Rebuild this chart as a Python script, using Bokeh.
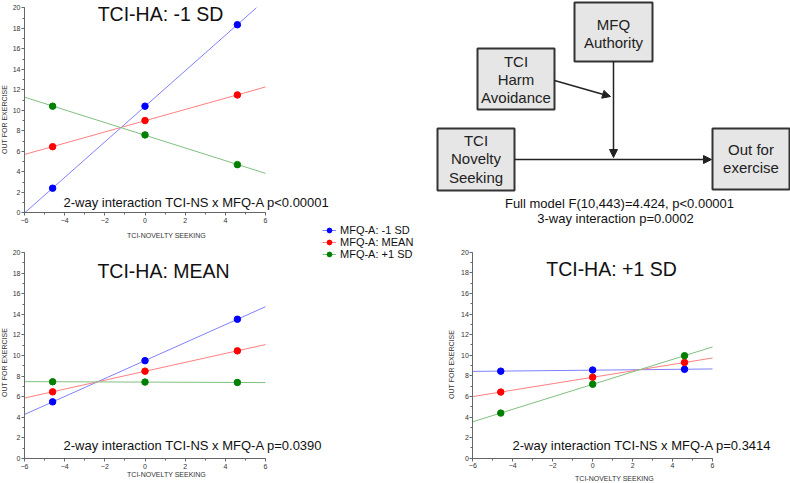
import numpy as np
from bokeh.plotting import figure
from bokeh.layouts import row, column
from bokeh.models import (Range1d, Label, Legend, LegendItem, SingleIntervalTicker,
                          Arrow, NormalHead)
from bokeh.embed import file_html
from bokeh.resources import INLINE

# ---------------- data ----------------
ns_levels = [-4.6, 0.0, 4.6]          # TCI-Novelty Seeking: -1 SD, mean, +1 SD
x_limits = [-6, 6]
y_limits = [0, 20]

# TCI-HA: -1 SD
ha_low_mfq_low = [2.4, 10.4, 18.35]
ha_low_mfq_mean = [6.45, 9.0, 11.5]
ha_low_mfq_high = [10.4, 7.6, 4.7]
# TCI-HA: MEAN
ha_mean_mfq_low = [5.5, 9.5, 13.52]
ha_mean_mfq_mean = [6.47, 8.48, 10.45]
ha_mean_mfq_high = [7.45, 7.42, 7.38]
# TCI-HA: +1 SD
ha_high_mfq_low = [8.45, 8.56, 8.63]
ha_high_mfq_mean = [6.42, 7.86, 9.29]
ha_high_mfq_high = [4.38, 7.18, 9.95]

series_labels = ["MFQ-A: -1 SD", "MFQ-A: MEAN", "MFQ-A: +1 SD"]
panel_titles = ["TCI-HA: -1 SD", "TCI-HA: MEAN", "TCI-HA: +1 SD"]
panel_notes = ["2-way interaction TCI-NS x MFQ-A p<0.00001",
               "2-way interaction TCI-NS x MFQ-A p=0.0390",
               "2-way interaction TCI-NS x MFQ-A p=0.3414"]
x_label = "TCI-NOVELTY SEEKING"
y_label = "OUT FOR EXERCISE"
model_text = ["Full model F(10,443)=4.424, p<0.00001", "3-way interaction p=0.0002"]

# ---------------- styles ----------------
FONT = "Liberation Sans"
line_cols = ["#8080ff", "#ff8080", "#80c080"]
dot_cols = ["#0000ff", "#ff0000", "#008000"]


class Panel:
    """Figure whose frame fills the whole canvas; axes drawn at fixed data locations."""

    def __init__(self, width, height, left, top, xa, ya, margin=None):
        # xa: (px of x=-6, px of x=6) page coords ; ya: (px of y=0, px of y=20)
        self.left, self.top = left, top
        self.kx = (x_limits[1] - x_limits[0]) / (xa[1] - xa[0])
        self.x0 = x_limits[0] - xa[0] * self.kx
        self.ky = (y_limits[1] - y_limits[0]) / (ya[0] - ya[1])
        self.y0 = ya[0] * self.ky
        xr = Range1d(self.dx(left), self.dx(left + width))
        yr = Range1d(self.dy(top + height), self.dy(top))
        p = figure(width=width, height=height, output_backend="svg",
                   toolbar_location=None, x_range=xr, y_range=yr, min_border=0,
                   min_border_left=0, min_border_right=0, min_border_top=0,
                   min_border_bottom=0)
        if margin is not None:
            p.margin = margin
        p.background_fill_alpha = 0
        p.border_fill_alpha = 0
        p.outline_line_color = None
        p.grid.visible = False
        p.xaxis.fixed_location = y_limits[0]
        p.yaxis.fixed_location = x_limits[0]
        p.xaxis.bounds = tuple(x_limits)
        p.yaxis.bounds = tuple(y_limits)
        for ax in (p.xaxis[0], p.yaxis[0]):
            ax.ticker = SingleIntervalTicker(interval=2, num_minor_ticks=2)
            ax.axis_line_color = "#666666"
            ax.major_tick_line_color = "#666666"
            ax.minor_tick_line_color = "#666666"
            ax.major_tick_out = 3
            ax.major_tick_in = 0
            ax.minor_tick_out = 2
            ax.minor_tick_in = 0
            ax.major_label_text_font = FONT
            ax.major_label_text_font_size = "7px"
            ax.major_label_text_color = "#333333"
        p.xaxis.major_label_standoff = 2
        p.yaxis.major_label_standoff = 1
        self.p = p

    def dx(self, px):
        return self.x0 + px * self.kx

    def dy(self, py):
        return self.y0 - py * self.ky

    def plot(self, series):
        xs = np.array(ns_levels)
        rends = []
        for i, ys in enumerate(series):
            k, b = np.polyfit(xs, np.array(ys), 1)
            lo, hi = float(x_limits[0]), float(x_limits[1])
            if k != 0:
                xa_, xb_ = (y_limits[0] - b) / k, (y_limits[1] - b) / k
                lo = max(lo, min(xa_, xb_))
                hi = min(hi, max(xa_, xb_))
            lx = np.array([lo, hi])
            ln = self.p.line(lx, k * lx + b, line_color=line_cols[i], line_width=1)
            ci = self.p.scatter(xs, ys, size=6.5, fill_color=dot_cols[i],
                                line_color=dot_cols[i])
            rends.append((ln, ci))
        return rends

    def text(self, px, py, txt, size, align="center", color="#111111", angle=0.0):
        self.p.add_layout(Label(x=self.dx(px), y=self.dy(py), text=txt, text_font=FONT,
                                text_font_size=size, text_align=align, angle=angle,
                                text_baseline="middle", text_color=color))


# top-left: TCI-HA -1 SD   (page coordinates)
P1 = Panel(432, 242, 0, 0, (24, 265), (212.3, 7.3))
P1.plot([ha_low_mfq_low, ha_low_mfq_mean, ha_low_mfq_high])
P1.text(160, 13.5, panel_titles[0], "19.5px")
P1.text(63, 202, panel_notes[0], "13px", align="left")
P1.text(166, 235, x_label, "7px", color="#333333")
P1.text(3.5, 119, y_label, "7px", color="#333333", angle=np.pi / 2)

# bottom-left: TCI-HA MEAN (overlaps p1 bottom by 20px, carries the legend)
P2 = Panel(432, 261, 0, 222, (24, 265), (458, 252), margin=(-20, 0, 0, 0))
r2 = P2.plot([ha_mean_mfq_low, ha_mean_mfq_mean, ha_mean_mfq_high])
P2.text(163, 270, panel_titles[1], "19.5px")
P2.text(63, 445, panel_notes[1], "13px", align="left")
P2.text(166, 474, x_label, "7px", color="#333333")
P2.text(3.5, 362, y_label, "7px", color="#333333", angle=np.pi / 2)
legend = Legend(items=[LegendItem(label=series_labels[i], renderers=list(r2[i]))
                       for i in range(3)],
                location=(322, 223), orientation="vertical",
                label_text_font=FONT, label_text_font_size="11px",
                label_text_color="#111111", glyph_width=14, glyph_height=12,
                label_height=12, label_standoff=4, spacing=0, padding=0, margin=0,
                background_fill_alpha=0, border_line_color=None)
P2.p.add_layout(legend)

# bottom-right: TCI-HA +1 SD
P3 = Panel(358, 247, 432, 236, (472.3, 712), (457.7, 251.7))
P3.plot([ha_high_mfq_low, ha_high_mfq_mean, ha_high_mfq_high])
P3.text(611, 268, panel_titles[2], "19.5px")
P3.text(512, 445, panel_notes[2], "13px", align="left")
P3.text(614, 478, x_label, "7px", color="#333333")
P3.text(451, 364, y_label, "7px", color="#333333", angle=np.pi / 2)

# ---------------- diagram (page pixel coordinates) ----------------
pd = figure(width=358, height=236, output_backend="svg", toolbar_location=None,
            x_range=Range1d(432, 790), y_range=Range1d(236, 0),
            x_axis_type=None, y_axis_type=None, min_border=0,
            min_border_left=0, min_border_right=0, min_border_top=0,
            min_border_bottom=0)
pd.outline_line_color = None
pd.grid.visible = False
pd.background_fill_alpha = 0
pd.border_fill_alpha = 0

box_left = [574, 477, 437, 712]
box_right = [652, 554, 514, 789]
box_top = [2, 48, 128, 128]
box_bottom = [61, 109, 190, 189]
box_lines = [["MFQ", "Authority"], ["TCI", "Harm", "Avoidance"],
             ["TCI", "Novelty", "Seeking"], ["Out for", "exercise"]]
box_line_y = [[24, 42], [61, 79, 97], [140, 158, 177], [149, 167]]

pd.quad(left=box_left, right=box_right, top=box_top, bottom=box_bottom,
        fill_color="#e6e6e6", line_color="#333333", line_width=2)
tx, ty, tt = [], [], []
for i in range(4):
    for s, yy in zip(box_lines[i], box_line_y[i]):
        tx.append((box_left[i] + box_right[i]) / 2)
        ty.append(yy)
        tt.append(s)
pd.text(x=tx, y=ty, text=tt, text_font={"value": FONT}, text_font_size="15px",
        text_align="center", text_baseline="middle", text_color="#222222")

arrows = [(514, 159, 711, 159), (613, 61, 613, 157), (554, 80, 610, 96)]
for xs_, ys_, xe, ye in arrows:
    pd.add_layout(Arrow(x_start=xs_, y_start=ys_, x_end=xe, y_end=ye,
                        line_color="#222222", line_width=1.5,
                        end=NormalHead(size=8, fill_color="#222222",
                                       line_color="#222222")))

pd.text(x=[619, 615], y=[203, 218], text=model_text, text_font={"value": FONT},
        text_font_size="13px", text_align="center", text_baseline="middle",
        text_color="#111111")

layout = row(column(P1.p, P2.p), column(pd, P3.p))
open("out.html", "w").write(file_html(layout, INLINE))
